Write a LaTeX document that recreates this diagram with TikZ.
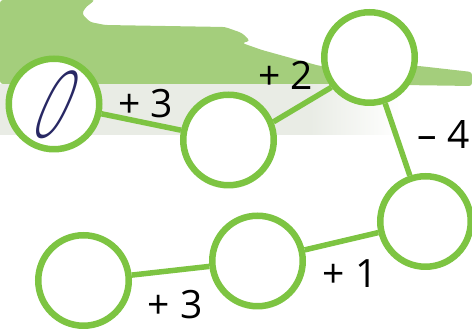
\documentclass[tikz,border=0pt]{standalone}
\usepackage{fontspec}
\setmainfont{Open Sans}
\newfontfamily\handfont{DejaVu Sans ExtraLight}
\usetikzlibrary{shapes}
\definecolor{ringgreen}{RGB}{125,196,66}
\definecolor{blobgreen}{RGB}{164,206,124}
\definecolor{bandgrey}{RGB}{233,236,229}
\definecolor{penblue}{RGB}{40,40,100}
\tikzstyle{node_ring} = [circle, draw=ringgreen, line width=6.5pt, fill=white, inner sep=0pt, minimum size=90.5pt]
\tikzstyle{node_op} = [inner sep=0pt, font=\fontsize{39}{42}\selectfont]
\tikzstyle{edge_link} = [draw=ringgreen, line width=5.5pt]

\begin{document}
\begin{tikzpicture}[x=1pt,y=1pt]
\useasboundingbox (0,0) rectangle (472,331);
% background
\fill[bandgrey] (0,196) rectangle (310,247);
\shade[left color=bandgrey, right color=white] (310,196) rectangle (400,247);
\fill[blobgreen, rounded corners=3pt] (0,331) -- (95,331) -- (85,323) -- (82,317) -- (90,309) -- (105,306)
  -- (225,304) -- (242,298) -- (250,290) -- (242,288) -- (262,281) -- (298,271) -- (320,265)
  -- (419,265) -- (472,259) -- (472,245) -- (330,247) -- (0,247) -- cycle;

\node (A) at (54,227) [node_ring] {};
\node (B) at (228.5,191) [node_ring] {};
\node (C) at (369.5,273.5) [node_ring] {};
\node (D) at (425.5,109.5) [node_ring] {};
\node (E) at (257.5,70) [node_ring] {};
\node (F) at (83.5,50.5) [node_ring] {};
\node (Z) at (57,226) [inner sep=0pt, text=penblue, font=\handfont\fontsize{40}{40}\selectfont, xslant=0.45, xscale=1.35, yscale=2.25] {0};

\draw[edge_link] (A)--(B) (B.22)--(C.218) (C)--(D) (D)--(E) (E)--(F);

\node (opAB) at (145.5,227.5) [node_op] {+ 3};
\node (opBC) at (285.5,256) [node_op] {+ 2};
\node (opCD) at (443.5,196) [node_op] {– 4};
\node (opDE) at (350,57) [node_op] {+ 1};
\node (opEF) at (175,26) [node_op] {+ 3};
\end{tikzpicture}
\end{document}
